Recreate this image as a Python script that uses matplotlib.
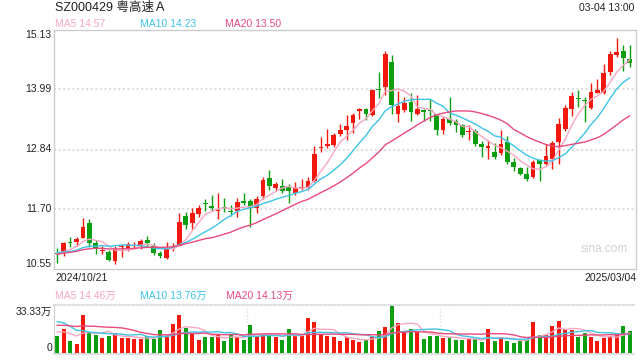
import numpy as np
import matplotlib
matplotlib.use('Agg')
import matplotlib.pyplot as plt
from matplotlib.transforms import blended_transform_factory

plt.rcParams['font.family'] = ['Liberation Sans', 'Noto Sans CJK SC', 'DejaVu Sans']

# ---------------- data ----------------
title = 'SZ000429 粤高速Ａ'
timestamp = '03-04 13:00'
start_date = '2024/10/21'
end_date = '2025/03/04'

opens = [10.86, 10.86, 11.07, 11.07, 11.14, 11.44, 11.04, 10.90, 10.88, 10.71,
         10.97, 10.95, 10.99, 11.00, 11.10, 10.99, 10.86, 10.76, 10.95, 11.00,
         11.57, 11.43, 11.60, 11.80, 11.75, 11.66, 11.74, 11.67, 11.67, 11.85,
         11.85, 11.72, 11.94, 12.29, 12.10, 12.14, 12.15, 12.01, 12.11, 12.11,
         12.23, 12.87, 12.90, 12.92, 13.14, 13.21, 13.34, 13.57, 13.61, 13.51,
         14.00, 14.04, 14.52, 13.52, 13.60, 13.75, 13.52, 13.60, 13.58, 13.52,
         13.21, 13.43, 13.38, 13.30, 13.17, 13.19, 12.95, 12.86, 12.79, 12.78,
         12.98, 12.60, 12.49, 12.37, 12.31, 12.63, 12.56, 12.65, 12.98, 13.23,
         13.61, 13.81, 13.78, 13.64, 13.93, 13.93, 14.33, 14.66, 14.72, 14.57]
highs = [10.95, 11.07, 11.17, 11.16, 11.53, 11.51, 11.10, 10.99, 10.92, 11.00,
         11.02, 11.07, 11.07, 11.12, 11.18, 11.04, 10.90, 11.07, 11.04, 11.62,
         11.64, 11.71, 11.77, 11.90, 11.96, 12.00, 11.92, 11.77, 11.91, 12.00,
         11.89, 11.95, 12.31, 12.45, 12.22, 12.28, 12.18, 12.22, 12.27, 12.31,
         12.91, 13.07, 13.23, 13.16, 13.33, 13.50, 13.53, 13.64, 13.64, 14.00,
         14.33, 14.72, 14.65, 13.97, 13.84, 13.92, 13.89, 13.62, 13.80, 13.52,
         13.46, 13.85, 13.42, 13.33, 13.30, 13.23, 13.01, 13.02, 12.96, 13.21,
         13.09, 12.68, 12.51, 12.51, 12.63, 12.65, 12.95, 13.01, 13.44, 13.70,
         13.94, 13.98, 13.84, 14.11, 14.20, 14.47, 14.72, 14.98, 14.84, 14.84]
lows = [10.66, 10.80, 10.98, 11.00, 11.14, 10.98, 10.84, 10.83, 10.70, 10.65,
        10.78, 10.90, 10.93, 10.94, 11.00, 10.82, 10.76, 10.74, 10.89, 11.00,
        11.32, 11.32, 11.54, 11.67, 11.67, 11.51, 11.64, 11.56, 11.55, 11.77,
        11.36, 11.62, 11.90, 12.07, 12.05, 12.01, 11.81, 11.96, 12.06, 12.06,
        12.22, 12.79, 12.86, 12.88, 13.09, 13.02, 13.15, 13.43, 13.41, 13.48,
        13.83, 13.89, 13.52, 13.37, 13.55, 13.38, 13.50, 13.38, 13.38, 13.12,
        13.14, 13.31, 13.17, 13.07, 13.02, 12.91, 12.70, 12.65, 12.65, 12.73,
        12.56, 12.42, 12.36, 12.24, 12.30, 12.24, 12.55, 12.47, 12.56, 13.20,
        13.49, 13.65, 13.37, 13.61, 13.92, 13.90, 14.26, 14.62, 14.35, 14.42]
closes = [10.83, 11.05, 11.05, 11.12, 11.35, 11.04, 10.94, 10.91, 10.73, 10.93,
          10.99, 11.02, 11.01, 11.08, 11.04, 10.86, 10.80, 10.93, 11.00, 11.45,
          11.40, 11.63, 11.72, 11.79, 11.71, 11.67, 11.72, 11.65, 11.83, 11.81,
          11.72, 11.90, 12.25, 12.14, 12.18, 12.05, 12.04, 12.10, 12.13, 12.24,
          12.75, 12.89, 12.94, 13.12, 13.21, 13.29, 13.50, 13.61, 13.52, 13.98,
          13.98, 14.67, 13.70, 13.67, 13.74, 13.56, 13.62, 13.55, 13.57, 13.21,
          13.42, 13.35, 13.31, 13.12, 13.18, 12.95, 12.88, 12.90, 12.70, 12.95,
          12.60, 12.50, 12.38, 12.27, 12.60, 12.56, 12.72, 12.96, 13.32, 13.64,
          13.87, 13.80, 13.76, 13.94, 13.98, 14.31, 14.67, 14.71, 14.59, 14.50]
volumes = [12.2, 17.0, 8.8, 6.8, 26.7, 14.5, 12.9, 10.9, 12.5, 14.3,
           10.7, 10.7, 10.2, 10.2, 12.0, 10.4, 16.3, 11.8, 20.4, 26.7,
           17.5, 14.1, 9.5, 11.3, 11.3, 13.1, 9.0, 12.7, 11.8, 9.5,
           19.5, 12.2, 13.6, 12.7, 11.3, 9.5, 16.8, 12.2, 12.2, 24.5,
           21.8, 13.1, 12.2, 11.3, 9.0, 11.8, 9.5, 8.2, 9.5, 11.8,
           15.4, 18.2, 33.33, 20.9, 15.4, 16.8, 15.0, 10.0, 12.2, 12.2,
           10.9, 11.8, 9.5, 9.5, 10.4, 10.0, 8.2, 16.8, 8.6, 11.3,
           9.0, 7.7, 9.0, 9.5, 21.8, 12.7, 12.7, 19.0, 22.2, 16.8,
           16.3, 11.8, 14.5, 11.8, 9.0, 10.9, 12.2, 13.1, 19.0, 15.9]  # 万

# estimated values before the visible window (needed for the moving averages)
prev_closes = [10.62, 10.70, 10.75, 10.68, 10.72, 10.73, 10.95, 10.98, 10.92, 10.90,
               10.96, 10.93, 10.88, 10.86, 10.80, 10.88, 10.82, 10.86, 10.84]
prev_volumes = [16, 18, 15, 17, 19, 16, 18, 17, 17, 17,
                26, 31, 35, 28, 25, 17, 14, 16, 16]

price_ticks = [10.55, 11.70, 12.84, 13.99, 15.13]
price_tick_labels = ['10.55', '11.70', '12.84', '13.99', '15.13']
vol_max = 33.33
vol_tick_labels = ['0', '33.33万']
ma_windows = [5, 10, 20]
ma_price_values = ['14.57', '14.23', '13.50']
ma_vol_values = ['14.46万', '13.76万', '14.13万']
watermark = 'sina.com'

# ---------------- style ----------------
RED = '#f2190c'
GREEN = '#0a9e10'
MA_COLORS = ['#f8a7c1', '#3ec4e6', '#e94a7e']
TXT = '#222222'
FRAME = '#cccccc'
GRID = '#dedede'

W, H = 640, 360
fig = plt.figure(figsize=(6.4, 3.6), dpi=100)


def axes_px(l, t, r, b):
    return fig.add_axes([l / W, 1 - b / H, (r - l) / W, (b - t) / H])


def ftext(x, y, s, **kw):
    kw.setdefault('color', TXT)
    kw.setdefault('fontsize', 7.5)
    kw.setdefault('va', 'center')
    fig.text(x / W, 1 - y / H, s, **kw)


def sma(prev, cur, w):
    full = np.concatenate([np.asarray(prev, float), np.asarray(cur, float)])
    p = len(prev)
    return np.array([full[p + i - w + 1:p + i + 1].mean() for i in range(len(cur))])


o = np.array(opens); h = np.array(highs); l = np.array(lows); c = np.array(closes)
v = np.array(volumes)
n = len(c)
x = np.arange(n)
up = c >= o
colors = np.where(up, RED, GREEN)

# ---------------- price panel ----------------
ax = axes_px(54, 30, 636, 269)
ax.set_xlim(-0.5, n)
ax.set_ylim(price_ticks[0], price_ticks[-1])
for yv in price_ticks[1:-1]:
    ax.axhline(yv, color=GRID, lw=1.5, ls=(0, (1, 1.2)), zorder=0)
ax.vlines(x, l, h, colors=colors, lw=1.0, zorder=2)
body_b = np.minimum(o, c)
body_h = np.maximum(np.abs(c - o), 0.02)
ax.bar(x, body_h, width=0.74, bottom=body_b, color=colors, linewidth=0, zorder=3)
for w, col in zip(ma_windows, MA_COLORS):
    ax.plot(x, sma(prev_closes, c, w), color=col, lw=1.0, zorder=4)
ax.set_xticks([]); ax.set_yticks([])
for s in ax.spines.values():
    s.set_color(FRAME); s.set_linewidth(1.0)

tr = blended_transform_factory(ax.transAxes, ax.transData)
for i, (yv, lab) in enumerate(zip(price_ticks, price_tick_labels)):
    va = 'bottom' if i == 0 else ('top' if i == len(price_ticks) - 1 else 'center')
    ax.text(-0.004, yv, lab, transform=tr, ha='right', va=va, fontsize=7.5, color=TXT)
ax.text(0.905, 0.085, watermark, transform=ax.transAxes, ha='left', va='center',
        fontsize=8.5, color='#d2d2d2')

# ---------------- volume panel ----------------
axv = axes_px(54, 305, 636, 354)
axv.set_xlim(-0.5, n)
axv.set_ylim(0, vol_max)
axv.bar(x, v, width=0.62, color=colors, linewidth=0, zorder=2)
for w, col in zip(ma_windows, MA_COLORS):
    axv.plot(x, sma(prev_volumes, v, w), color=col, lw=1.0, zorder=3)
for xv in [29.5, 59.5]:
    axv.axvline(xv, color=GRID, lw=1.0, ls=(0, (1, 1.5)), zorder=0)
axv.set_xticks([]); axv.set_yticks([])
axv.spines['right'].set_visible(False)
axv.spines['left'].set_color(FRAME)
for k in ['top', 'bottom']:
    axv.spines[k].set_color(GRID)
    axv.spines[k].set_linewidth(1.5)
    axv.spines[k].set_linestyle((0, (1, 1.2)))

# ---------------- texts ----------------
ftext(55, 8, title, fontsize=9, ha='left')
ftext(634, 8, timestamp, ha='right')
for xp, w, col, val in zip([55, 140, 225], ma_windows, MA_COLORS, ma_price_values):
    ftext(xp, 24, f'MA{w} {val}', color=col, ha='left')
ftext(55, 278, start_date, ha='left')
ftext(636, 278, end_date, ha='right')
for xp, w, col, val in zip([55, 140, 226], ma_windows, MA_COLORS, ma_vol_values):
    ftext(xp, 296, f'MA{w} {val}', color=col, ha='left')
ftext(52, 312, vol_tick_labels[1], ha='right')
ftext(52, 348, vol_tick_labels[0], ha='right')

fig.savefig('out.png', dpi=100)
